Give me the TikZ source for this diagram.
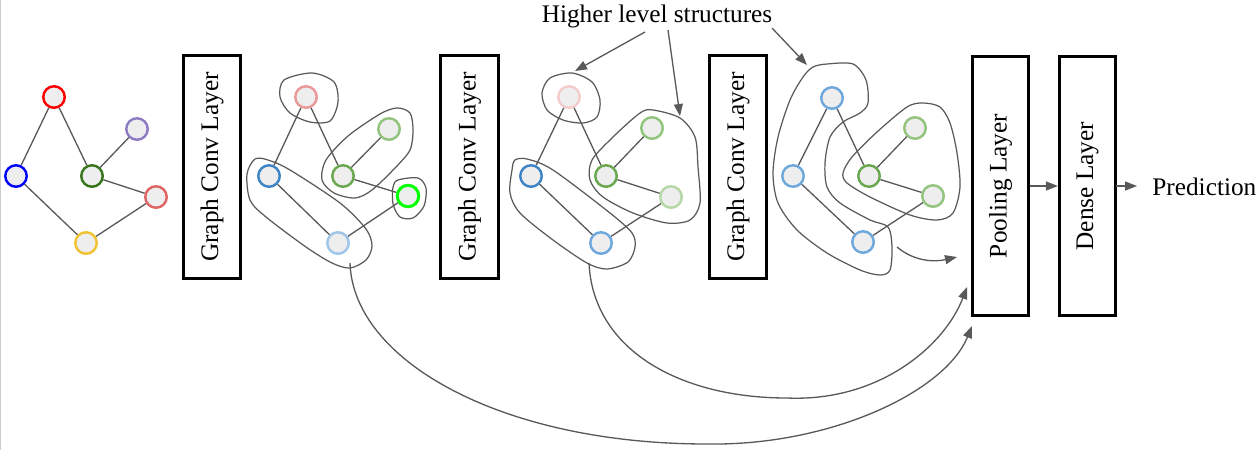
\documentclass[tikz,border=0pt]{standalone}
\usepackage{fontspec}
\setmainfont{Liberation Serif}
\usetikzlibrary{positioning,arrows.meta}

\definecolor{EdgeGray}{HTML}{595959}
\definecolor{NodeFill}{HTML}{EEEEEE}
\definecolor{FrameGray}{HTML}{CCCCCC}
\definecolor{ColRed}{HTML}{FF0000}
\definecolor{ColPurple}{HTML}{8E7CC3}
\definecolor{ColBlue}{HTML}{0000FF}
\definecolor{ColDarkGreen}{HTML}{38761D}
\definecolor{ColRose}{HTML}{E06666}
\definecolor{ColYellow}{HTML}{F1C232}
\definecolor{ColPink}{HTML}{EA9999}
\definecolor{ColPalePink}{HTML}{F4CCCC}
\definecolor{ColLightGreen}{HTML}{93C47D}
\definecolor{ColPaleGreen}{HTML}{B6D7A8}
\definecolor{ColGreen}{HTML}{6AA84F}
\definecolor{ColLime}{HTML}{00FF00}
\definecolor{ColMidBlue}{HTML}{3D85C6}
\definecolor{ColSkyBlue}{HTML}{6FA8DC}
\definecolor{ColPaleBlue}{HTML}{9FC5E8}

\tikzset{
	vert/.style={circle, draw=#1, fill=NodeFill, line width=1.4pt, minimum size=0.43cm, inner sep=0pt},
	edge/.style={EdgeGray, line width=0.75pt},
	hull/.style={EdgeGray, line width=0.7pt},
	layer/.style={draw, line width=1.5pt, rotate=90, minimum width=4.47cm, minimum height=1.15cm, inner sep=0pt, font=\Large},
	arr/.style={EdgeGray, line width=0.75pt, -{Triangle[length=0.24cm, width=0.18cm]}}
}

\begin{document}
\begin{tikzpicture}[x=0.02cm, y=-0.02cm]
					\useasboundingbox (0,0) rectangle (1260,450);
					\draw[FrameGray, line width=0.03cm] (0.75,0) -- (0.75,450);
					% INPUT GRAPH
					\node[vert=ColRed] (ARed) at (54,97) {};
					\node[vert=ColPurple] (APurple) at (137,129) {};
					\node[vert=ColBlue] (ABlue) at (16,176) {};
					\node[vert=ColDarkGreen] (AGreen) at (92,176) {};
					\node[vert=ColRose] (ARose) at (156,197) {};
					\node[vert=ColYellow] (AYellow) at (86,243) {};
					\draw[edge] (ARed) -- (ABlue);
					\draw[edge] (ARed) -- (AGreen);
					\draw[edge] (AGreen) -- (APurple);
					\draw[edge] (AGreen) -- (ARose);
					\draw[edge] (ABlue) -- (AYellow);
					\draw[edge] (AYellow) -- (ARose);
					% LAYERS
					\node[layer] (ConvA) at (212,167) {Graph Conv Layer};
					\node[layer] (ConvB) at (469.5,167) {Graph Conv Layer};
					\node[layer] (ConvC) at (738,167) {Graph Conv Layer};
					\node[layer, minimum width=5.19cm, minimum height=1.13cm] (Pool) at (1000.5,186) {Pooling Layer};
					\node[layer, minimum width=5.19cm, minimum height=1.13cm] (Dense) at (1087.5,186) {Dense Layer};
					\node[font=\Large, anchor=west, inner sep=0pt] (Pred) at (1152,187) {Prediction};
					\draw[arr] (Pool) -- (Dense);
					\draw[arr, shorten >=0.3cm] (Dense.center) ++(1.13cm/2,0) -- (Pred.west |- Dense.center);
					% AFTER FIRST CONV
					\node[vert=ColPink] (BTop) at (306,97) {};
					\node[vert=ColLightGreen] (BRight) at (389,129) {};
					\node[vert=ColMidBlue] (BLeft) at (269,176) {};
					\node[vert=ColGreen] (BMid) at (343,176) {};
					\node[vert=ColLime, line width=1.7pt] (BSide) at (408,196) {};
					\node[vert=ColPaleBlue] (BLow) at (338,243) {};
					\draw[edge] (BTop) -- (BLeft);
					\draw[edge] (BTop) -- (BMid);
					\draw[edge] (BMid) -- (BRight);
					\draw[edge] (BMid) -- (BSide);
					\draw[edge] (BLeft) -- (BLow);
					\draw[edge] (BLow) -- (BSide);
					\draw[hull] plot[smooth cycle] coordinates {(312,73) (334,82) (338,102) (330,121) (310,122) (290,113) (280,97) (284,80)};
					\draw[hull] plot[smooth cycle] coordinates {(397,108) (410,113) (413,130) (410,150) (395,168) (372,190) (355,198) (334,193) (322,180) (326,160) (348,136) (380,114)};
					\draw[hull] plot[smooth cycle] coordinates {(398,180) (418,178) (426,188) (424,206) (413,218) (400,217) (393,204) (393,187)};
					\draw[hull] plot[smooth cycle] coordinates {(255,159) (268,160) (290,170) (340,203) (366,229) (372,246) (366,260) (350,268) (332,263) (306,247) (266,217) (250,200) (247,174)};
					% AFTER SECOND CONV
					\node[vert=ColPalePink] (CTop) at (569,97) {};
					\node[vert=ColLightGreen] (CRight) at (652,128) {};
					\node[vert=ColMidBlue] (CLeft) at (531,176) {};
					\node[vert=ColGreen] (CMid) at (606,176) {};
					\node[vert=ColPaleGreen] (CSide) at (671,197) {};
					\node[vert=ColSkyBlue] (CLow) at (601,243) {};
					\draw[edge] (CTop) -- (CLeft);
					\draw[edge] (CTop) -- (CMid);
					\draw[edge] (CMid) -- (CRight);
					\draw[edge] (CMid) -- (CSide);
					\draw[edge] (CLeft) -- (CLow);
					\draw[edge] (CLow) -- (CSide);
					\draw[hull] plot[smooth cycle] coordinates {(572,73) (592,82) (600,100) (597,117) (583,123) (563,120) (547,110) (542,93) (550,78)};
					\draw[hull] plot[smooth cycle] coordinates {(653,110) (680,118) (695,137) (698,167) (700,203) (690,220) (667,223) (633,213) (603,197) (590,180) (592,160) (613,137) (640,113)};
					\draw[hull] plot[smooth cycle] coordinates {(515,160) (527,159) (553,170) (610,213) (632,233) (635,247) (628,262) (607,269) (587,263) (553,240) (520,213) (510,193) (512,170)};
					% AFTER THIRD CONV
					\node[vert=ColSkyBlue] (DTop) at (832,98) {};
					\node[vert=ColLightGreen] (DRight) at (915,128) {};
					\node[vert=ColSkyBlue] (DLeft) at (793,176) {};
					\node[vert=ColGreen] (DMid) at (869,176) {};
					\node[vert=ColLightGreen] (DSide) at (933,196) {};
					\node[vert=ColSkyBlue] (DLow) at (863,242) {};
					\draw[edge] (DTop) -- (DLeft);
					\draw[edge] (DTop) -- (DMid);
					\draw[edge] (DMid) -- (DRight);
					\draw[edge] (DMid) -- (DSide);
					\draw[edge] (DLeft) -- (DLow);
					\draw[edge] (DLow) -- (DSide);
					\draw[hull] plot[smooth cycle] coordinates {(827,64) (853,64) (866,80) (868,103) (860,113) (843,122) (830,137) (825,163) (827,187) (840,203) (870,220) (888,227) (892,247) (890,270) (880,275) (860,270) (827,253) (797,230) (778,203) (773,173) (778,137) (790,100) (803,77) (813,67)};
					\draw[hull] plot[smooth cycle] coordinates {(923,103) (940,107) (950,123) (957,153) (960,187) (953,213) (937,220) (910,215) (870,197) (847,183) (843,173) (852,157) (877,132) (907,107)};
					% HIGHER LEVEL LABEL
					\node[font=\Large] (Higher) at (657,16) {Higher level structures};
					\coordinate (HigherA) at (645,32);
					\coordinate (HigherB) at (668,30);
					\coordinate (HigherC) at (772,28);
					\coordinate (HullCTop) at (575,71);
					\coordinate (HullCGreen) at (680,116);
					\coordinate (HullDBlue) at (807,65);
					\draw[arr] (HigherA) -- (HullCTop);
					\draw[arr] (HigherB) -- (HullCGreen);
					\draw[arr] (HigherC) -- (HullDBlue);
					% SKIP LINKS TO POOLING
					\coordinate (TailB) at (350,263);
					\coordinate (TailC) at (589,263);
					\coordinate (TailD) at (897,247);
					\coordinate (PoolInB) at (972,326);
					\coordinate (PoolInC) at (967,287);
					\coordinate (PoolInD) at (957,257);
					\draw[arr] (TailB) .. controls (353,360) and (500,444) .. (707,444) .. controls (830,446) and (945,392) .. (PoolInB);
					\draw[arr] (TailC) .. controls (593,350) and (680,398) .. (787,398) .. controls (880,402) and (945,345) .. (PoolInC);
					\draw[arr] (TailD) .. controls (915,262) and (935,262) .. (PoolInD);
				\end{tikzpicture}
\end{document}
